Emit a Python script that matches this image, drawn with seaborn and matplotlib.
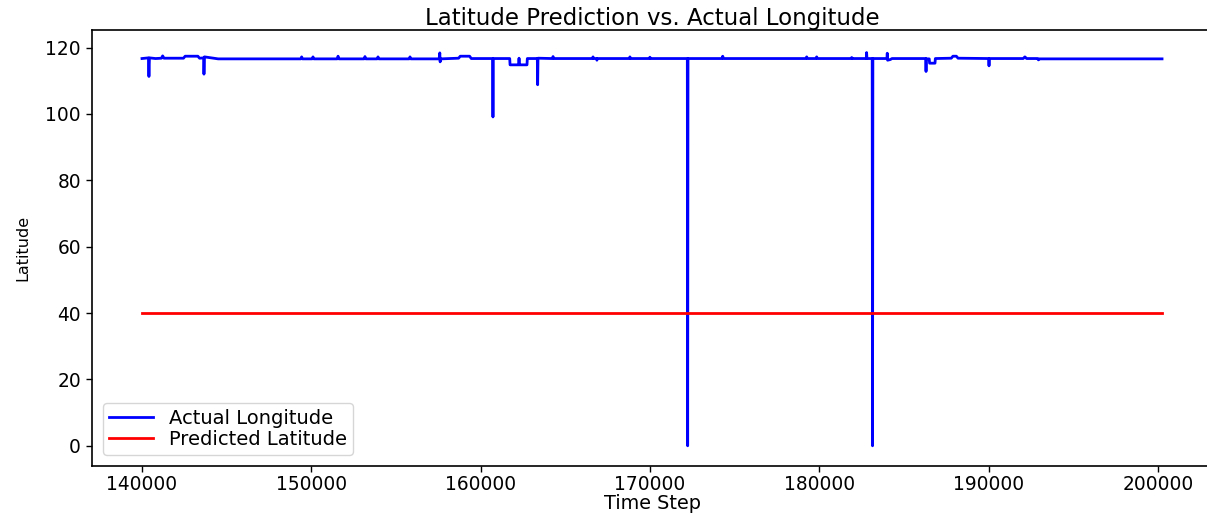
import matplotlib
matplotlib.use("Agg")
import matplotlib.pyplot as plt
import seaborn as sns
import pandas as pd

# Actual longitude (blue), segment by segment
actual_time = [
    # start
    140000, 140380, 140410, 140440, 140800, 141150, 141220, 141300, 142450, 142550,
    143300, 143400, 143640, 143660, 143690, 144500,
    # small bumps
    149380, 149430, 149480, 150050, 150100, 150150, 151530, 151580, 151630, 153120,
    153170, 153220, 153890, 153940, 153990, 155780, 155830, 155880,
    # around 158000
    157550, 157590, 157610, 157650, 158700, 158800, 159350, 159450,
    # dips 160000-164000
    160710, 160730, 160750, 161720, 161740, 162250, 162270, 162290, 162740, 162760,
    163350, 163370, 163390,
    # bumps 164000-170000
    164230, 164280, 164330, 166600, 166640, 166680, 166850, 166870, 166890, 168780,
    168820, 168860, 169960, 170000, 170040,
    # first drop to zero
    172210, 172230, 172250,
    # bumps 174000-182000
    174250, 174300, 174350, 179210, 179260, 179310, 179800, 179850, 179900, 181880,
    181920, 181960,
    # second drop to zero
    182780, 182800, 182820, 183130, 183150, 183170, 184000, 184020, 184040, 184200,
    184300,
    # dips near 186500
    186290, 186310, 186330, 186500, 186520, 186840, 186860, 187800, 187900, 188100,
    188200,
    # tail
    190010, 190030, 190050, 192050, 192150, 192250, 192900, 192950, 193000, 200250,
]
actual_value = [
    116.7, 116.9, 111.3, 116.9, 116.7, 116.8, 117.5, 116.8, 116.8, 117.4,
    117.4, 116.8, 116.9, 112.0, 117.2, 116.6,
    116.6, 117.2, 116.6, 116.6, 117.2, 116.6, 116.6, 117.4, 116.6, 116.6,
    117.3, 116.6, 116.6, 117.2, 116.6, 116.6, 117.2, 116.6,
    116.6, 118.4, 115.7, 116.6, 116.8, 117.4, 117.4, 116.7,
    116.7, 99.1, 116.7, 116.7, 114.8, 114.8, 116.8, 114.8, 114.8, 116.7,
    116.7, 108.8, 116.8,
    116.7, 117.3, 116.7, 116.7, 117.2, 116.7, 116.7, 116.2, 116.7, 116.7,
    117.2, 116.7, 116.7, 117.1, 116.7,
    116.7, 0.0, 116.7,
    116.7, 117.4, 116.7, 116.7, 117.2, 116.7, 116.7, 117.2, 116.7, 116.7,
    117.0, 116.7,
    116.7, 118.5, 116.7, 116.7, 0.0, 116.7, 116.7, 118.3, 116.2, 116.4,
    116.7,
    116.7, 112.8, 116.6, 116.6, 115.3, 115.3, 116.7, 116.8, 117.4, 117.4,
    116.8,
    116.7, 114.5, 116.7, 116.7, 117.2, 116.7, 116.7, 116.3, 116.6, 116.6,
]

# Predicted latitude (red)
predicted_time = [140000, 200250]
predicted_value = [40.0, 40.0]

title = "Latitude Prediction vs. Actual Longitude"
x_label = "Time Step"
y_label = "Latitude"
x_ticks = [140000, 150000, 160000, 170000, 180000, 190000, 200000]
y_ticks = [0, 20, 40, 60, 80, 100, 120]

actual_df = pd.DataFrame({"t": actual_time, "v": actual_value})
pred_df = pd.DataFrame({"t": predicted_time, "v": predicted_value})

W, H = 1207, 517
fig = plt.figure(figsize=(W / 100, H / 100), dpi=100)
left, right, top, bottom = 92, 1212, 30, 465.7
ax = fig.add_axes([left / W, 1 - bottom / H, (right - left) / W, (bottom - top) / H])

sns.lineplot(data=actual_df, x="t", y="v", ax=ax, color="blue", linewidth=2.0,
             estimator=None, sort=False, label="Actual Longitude")
sns.lineplot(data=pred_df, x="t", y="v", ax=ax, color="red", linewidth=2.0,
             estimator=None, sort=False, label="Predicted Latitude")

ax.set_xlim(137047, 203201)
ax.set_ylim(-6.0, 125.3)
ax.set_xticks(x_ticks)
ax.set_yticks(y_ticks)
ax.tick_params(labelsize=13.4, length=4.5, width=1.0)
ax.tick_params(axis="x", pad=2.5)
ax.set_title(title, fontsize=16.5, pad=3)
ax.set_xlabel(x_label, fontsize=13.9, labelpad=0)
ax.set_ylabel(y_label, fontsize=11.5, labelpad=11)
for s in ax.spines.values():
    s.set_linewidth(1.2)
ax.legend(loc="lower left", fontsize=14, labelspacing=0.12, borderpad=0.3,
          handlelength=2.3, borderaxespad=0.55)

fig.savefig("out.png", dpi=100)
